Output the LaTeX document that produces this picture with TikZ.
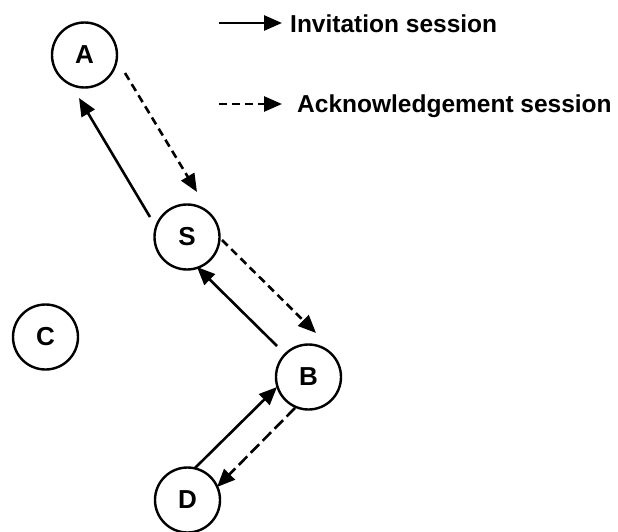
\documentclass[tikz,border=0pt]{standalone}
\usepackage{fontspec}
\setmainfont{Liberation Sans}
\usetikzlibrary{arrows.meta,calc}
\begin{document}
\begin{tikzpicture}[x=1pt,y=-1pt,
  peer/.style={circle,draw,line width=2.4pt,minimum size=65pt,inner sep=0pt,
    font=\fontsize{26}{30}\selectfont\bfseries},
  link/.style={line width=2.6pt,-{Triangle[length=18pt,width=15pt]}},
  ack/.style={link,dash pattern=on 8pt off 5pt},
  acklong/.style={link,dash pattern=on 12pt off 5pt},
  legendtext/.style={anchor=base west,inner sep=0pt,
    font=\fontsize{24.5}{29}\selectfont\bfseries}]
\useasboundingbox (0,0) rectangle (618,532);

% peers
\node[peer] (A) at (84.5,55) {A};
\node[peer] (S) at (187,237) {S};
\node[peer] (C) at (45.5,337) {C};
\node[peer] (B) at (308.5,377) {B};
\node[peer] (D) at (187.5,500) {D};

% invitation (solid) and acknowledgement (dashed) messages
\draw[link] ($(S)+(-37,-20)$) -- ($(A)+(-5.5,43)$);
\draw[ack]  ($(A)+(40.5,18)$) -- ($(S)+(10,-45)$);
\draw[link] ($(B)+(-31.5,-31)$) -- ($(S)+(10,30)$);
\draw[ack]  ($(S)+(35,3)$) -- ($(B)+(7.5,-44)$);
\draw[link] ($(D)+(7.5,-32)$) -- ($(B)+(-31.5,10)$);
\draw[acklong] ($(B)+(-13.5,31)$) -- ($(D)+(29.5,-13)$);

% legend
\coordinate (l1a) at (219,23);
\coordinate (l1b) at (282,23);
\coordinate (l2a) at (219,104);
\coordinate (l2b) at (282,104);
\draw[link] (l1a) -- (l1b);
\draw[ack]  (l2a) -- (l2b);
\node[legendtext] (t1) at (290,33) {Invitation session};
\node[legendtext] (t2) at (297,113) {Acknowledgement session};
\end{tikzpicture}
\end{document}
